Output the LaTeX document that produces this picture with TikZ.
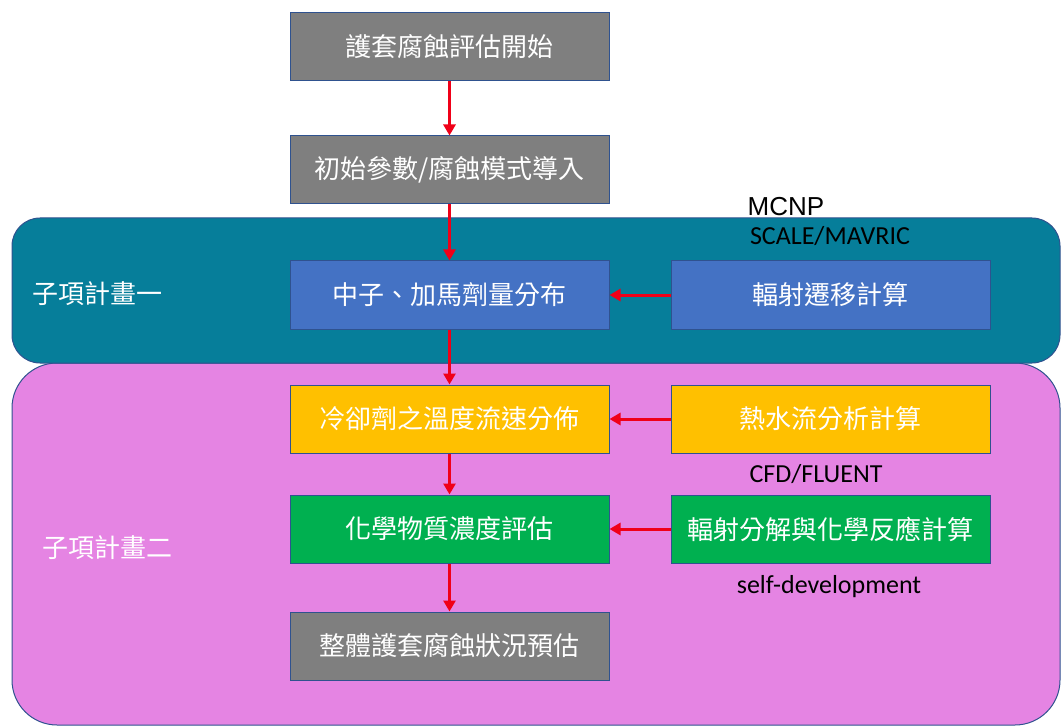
\documentclass[tikz,border=0pt]{standalone}
\usepackage{fontspec}
\newfontfamily\cjk{Noto Sans CJK TC}
\newfontfamily\calfont{Carlito}
\newfontfamily\arialfont{Liberation Sans}
\usetikzlibrary{arrows.meta}
\definecolor{teal1}{HTML}{067E9A}
\definecolor{pink1}{HTML}{E584E3}
\definecolor{gray1}{HTML}{7F7F7F}
\definecolor{blue1}{HTML}{4472C4}
\definecolor{yellow1}{HTML}{FFC000}
\definecolor{green1}{HTML}{00B050}
\definecolor{edge1}{HTML}{2F528F}
\definecolor{arrowred}{HTML}{F00018}
\tikzset{
  box/.style={draw=edge1, line width=1pt, minimum width=319pt, minimum height=68pt,
    inner sep=0pt, text=white, font=\cjk\fontsize{26}{30}\selectfont},
  panel/.style={draw=edge1, line width=1pt},
  flow/.style={draw=arrowred, line width=3pt, -{Triangle[length=11pt,width=12pt]}},
  tool/.style={inner sep=0pt, font=\calfont\fontsize{26}{30}\selectfont},
  plabel/.style={inner sep=0pt, text=white, font=\cjk\fontsize{26}{30}\selectfont}
}
\begin{document}
\begin{tikzpicture}[x=1pt,y=-1pt]
\useasboundingbox (0,0) rectangle (1062,727);
% panels
\path[panel, fill=pink1, rounded corners=45pt] (12,363) rectangle (1060,725);
\path[panel, fill=teal1, rounded corners=28pt] (12,218) rectangle (1060,363);
\node[plabel] (p1) at (97,294) {子項計畫一};
\node[plabel] (p2) at (107,548) {子項計畫二};
% boxes
\node[box, fill=gray1]   (b1) at (449.5,47)  {護套腐蝕評估開始};
\node[box, fill=gray1]   (b2) at (449.5,170) {初始參數/腐蝕模式導入};
\node[box, fill=blue1]   (b3) at (449.5,295) {中子、加馬劑量分布};
\node[box, fill=blue1]   (r3) at (830.5,295) {輻射遷移計算};
\node[box, fill=yellow1] (b5) at (449.5,419) {冷卻劑之溫度流速分佈};
\node[box, fill=yellow1] (r5) at (830.5,419) {熱水流分析計算};
\node[box, fill=green1]  (b7) at (449.5,529) {化學物質濃度評估};
\node[box, fill=green1]  (r7) at (830.5,529) {輻射分解與化學反應計算};
\node[box, fill=gray1]   (b9) at (449.5,646) {整體護套腐蝕狀況預估};
% tool labels
\node[inner sep=0pt, font=\arialfont\fontsize{26}{30}\selectfont] (t1) at (786,207) {MCNP};
\node[tool] (t2) at (830,236) {SCALE/MAVRIC};
\node[tool] (t3) at (816,474) {CFD/FLUENT};
\node[tool] (t4) at (829,587) {self-development};
% arrows
\draw[flow] (b1) -- (b2);
\draw[flow] (b2) -- (b3);
\draw[flow] (b3) -- (b5);
\draw[flow] (b5) -- (b7);
\draw[flow] (b7) -- (b9);
\draw[flow] (r3) -- (b3);
\draw[flow] (r5) -- (b5);
\draw[flow] (r7) -- (b7);
\end{tikzpicture}
\end{document}
